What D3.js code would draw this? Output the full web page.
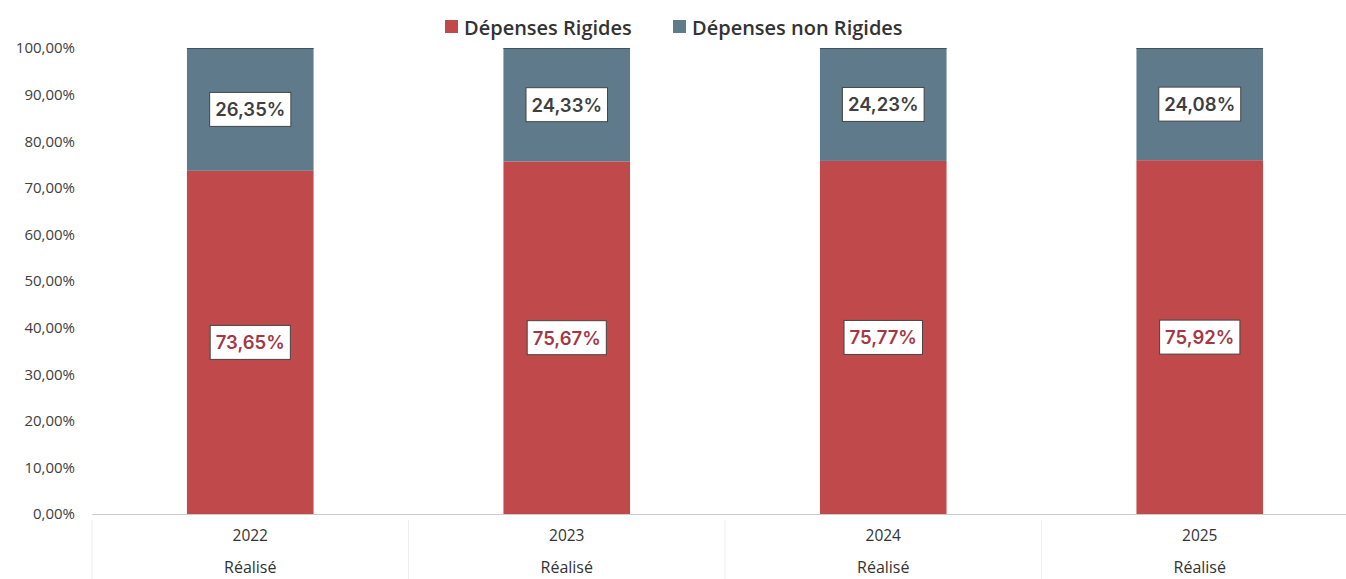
<!DOCTYPE html>
<html>
<head>
<meta charset="utf-8">
<script src="https://cdn.jsdelivr.net/npm/d3@7"></script>
<style>
  html, body { margin: 0; padding: 0; background: #fff; }
  svg { display: block; }
</style>
</head>
<body>
<svg id="chart" width="1346" height="579"></svg>
<script>
// Years and the sub-label under each year
const categories = ["2022", "2023", "2024", "2025"];
const subLabels = ["Réalisé", "Réalisé", "Réalisé", "Réalisé"];
// Share of each expense type (%)
const rigides = [73.65, 75.67, 75.77, 75.92];
const nonRigides = [26.35, 24.33, 24.23, 24.08];
const seriesNames = ["Dépenses Rigides", "Dépenses non Rigides"];
const yTicks = [0, 10, 20, 30, 40, 50, 60, 70, 80, 90, 100];

const COL_RED = "#c0494b";
const COL_BLUE = "#5f7a8a";
const LBL_RED = "#a43746";
const LBL_GRAY = "#3f3f3f";

const svg = d3.select("#chart");
const plotLeft = 92, plotRight = 1358, plotTop = 48, plotBottom = 514;

const x = d3.scaleBand().domain(categories).range([plotLeft, plotRight])
  .paddingInner(0.6).paddingOuter(0.3);
const y = d3.scaleLinear().domain([0, 100]).range([plotBottom, plotTop]);

const fmt = v => v.toFixed(2).replace(".", ",") + "%";

// Y axis labels (no line, no ticks)
const yAxis = svg.append("g").attr("transform", `translate(${plotLeft},0)`)
  .call(d3.axisLeft(y).tickValues(yTicks).tickFormat(fmt).tickSize(0).tickPadding(17));
yAxis.select(".domain").remove();
yAxis.selectAll("text")
  .attr("font-family", "Open Sans, sans-serif")
  .attr("font-size", 15)
  .attr("fill", "#404040");

// Category separators for the two-level axis
const seps = [plotLeft].concat(categories.slice(1).map(c => x(c) - x.step() * x.paddingInner() / 2));
svg.append("g").selectAll("line").data(seps).join("line")
  .attr("x1", d => d).attr("x2", d => d)
  .attr("y1", plotBottom + 6).attr("y2", 579)
  .attr("stroke", "#efefef").attr("stroke-width", 1);

// Stacked bars
const rows = categories.map((c, i) => ({ c, r: rigides[i], n: nonRigides[i] }));
const g = svg.append("g");
g.selectAll("rect.r").data(rows).join("rect").attr("class", "r")
  .attr("x", d => x(d.c)).attr("width", x.bandwidth())
  .attr("y", d => y(d.r)).attr("height", d => y(0) - y(d.r))
  .attr("fill", COL_RED);
g.selectAll("rect.n").data(rows).join("rect").attr("class", "n")
  .attr("x", d => x(d.c)).attr("width", x.bandwidth())
  .attr("y", d => y(d.r + d.n)).attr("height", d => y(d.r) - y(d.r + d.n))
  .attr("fill", COL_BLUE);
g.selectAll("line.cap").data(rows).join("line").attr("class", "cap")
  .attr("x1", d => x(d.c)).attr("x2", d => x(d.c) + x.bandwidth())
  .attr("y1", d => y(d.r + d.n) + 0.5).attr("y2", d => y(d.r + d.n) + 0.5)
  .attr("stroke", "#3f5360").attr("stroke-width", 1);

// Baseline
svg.append("line")
  .attr("x1", plotLeft).attr("x2", 1346)
  .attr("y1", y(0) + 0.5).attr("y2", y(0) + 0.5)
  .attr("stroke", "#cccccc").attr("stroke-width", 1);

// Data labels in white boxes
function addLabel(cx, cy, text, color) {
  const lg = svg.append("g");
  const rect = lg.append("rect");
  const t = lg.append("text")
    .attr("x", cx).attr("y", cy)
    .attr("text-anchor", "middle").attr("dominant-baseline", "central")
    .attr("font-family", "Inter, sans-serif").attr("font-weight", 600)
    .attr("font-size", 18.5).attr("fill", color).text(text);
  const w = t.node().getComputedTextLength() + 11;
  const h = 34;
  rect.attr("x", cx - w / 2).attr("y", cy - h / 2).attr("width", w).attr("height", h)
    .attr("fill", "#fff").attr("stroke", "#444").attr("stroke-width", 1);
}
rows.forEach(d => {
  const cx = x(d.c) + x.bandwidth() / 2;
  addLabel(cx, (y(d.r) + y(d.r + d.n)) / 2, fmt(d.n), LBL_GRAY);
  addLabel(cx, (y(0) + y(d.r)) / 2, fmt(d.r), LBL_RED);
});

// Two-level category axis
const xa = svg.append("g");
xa.selectAll("text.yr").data(categories).join("text").attr("class", "yr")
  .attr("x", d => x(d) + x.bandwidth() / 2).attr("y", 541)
  .attr("text-anchor", "middle")
  .attr("font-family", "Open Sans, sans-serif").attr("font-size", 15.5)
  .attr("fill", "#333").text(d => d);
xa.selectAll("text.sub").data(categories).join("text").attr("class", "sub")
  .attr("x", d => x(d) + x.bandwidth() / 2).attr("y", 573)
  .attr("text-anchor", "middle")
  .attr("font-family", "Open Sans, sans-serif").attr("font-size", 16)
  .attr("fill", "#333").text((d, i) => subLabels[i]);

// Legend
const legend = svg.append("g");
const legendColors = [COL_RED, COL_BLUE];
const legendX = [445, 673];
seriesNames.forEach((name, i) => {
  legend.append("rect").attr("x", legendX[i]).attr("y", 20)
    .attr("width", 13).attr("height", 13).attr("fill", legendColors[i]);
  legend.append("text").attr("x", legendX[i] + 19).attr("y", 27)
    .attr("dominant-baseline", "central")
    .attr("font-family", "Open Sans, sans-serif").attr("font-weight", 600)
    .attr("font-size", 20).attr("fill", "#333").text(name);
});
</script>
</body>
</html>
